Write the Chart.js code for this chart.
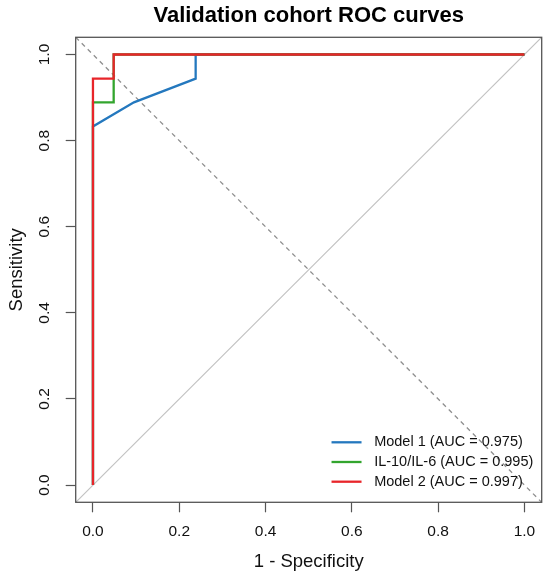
<!DOCTYPE html>
<html>
<head>
<meta charset="utf-8">
<script src="https://cdn.jsdelivr.net/npm/chart.js@4.4.1/dist/chart.umd.min.js"></script>
<style>
  html, body { margin: 0; padding: 0; background: #fff; }
  #wrap { width: 550px; height: 579px; position: relative; }
</style>
</head>
<body>
<div id="wrap"><canvas id="rocChart"></canvas></div>
<script>
// axis range (R style: 4% extension) and tick labels
const axisMin = -0.04;
const axisMax = 1.04;
const tickValues = [0, 0.2, 0.4, 0.6, 0.8, 1.0];

// legend labels
const seriesNames = ['Model 1 (AUC = 0.975)', 'IL-10/IL-6 (AUC = 0.995)', 'Model 2 (AUC = 0.997)'];

// ROC points (1 - specificity, sensitivity)
const model1Fpr = [0, 0, 0.095, 0.238, 0.238, 1];
const model1Sens = [0, 0.833, 0.889, 0.944, 1, 1];
const ilRatioFpr = [0, 0, 0.048, 0.048, 1];
const ilRatioSens = [0, 0.889, 0.889, 1, 1];
const model2Fpr = [0, 0, 0.048, 0.048, 1];
const model2Sens = [0, 0.944, 0.944, 1, 1];

// reference lines across the plot
const refX = [axisMin, axisMax];
const diagY = [axisMin, axisMax];
const antiDiagY = [axisMax, axisMin];

const FONT = "'Liberation Sans', Arial, sans-serif";
const colors = ['#2478BE', '#33A52E', '#E8252A'];

const toPoints = (xs, ys) => xs.map((x, i) => ({ x: x, y: ys[i] }));

const boxAndLegend = {
  id: 'boxAndLegend',
  afterDatasetsDraw(chart) {
    const { ctx, chartArea } = chart;
    ctx.save();
    ctx.strokeStyle = '#555';
    ctx.lineWidth = 1.3;
    ctx.strokeRect(chartArea.left, chartArea.top, chartArea.right - chartArea.left, chartArea.bottom - chartArea.top);
    ctx.restore();
  },
  afterDraw(chart) {
    const { ctx, chartArea } = chart;
    const items = chart.data.datasets.filter(d => d.label);
    ctx.save();
    ctx.font = '14.5px ' + FONT;
    const widest = Math.max(...items.map(d => ctx.measureText(d.label).width));
    const textX = chartArea.right - 8.4 - widest;
    const lineEnd = textX - 12.6;
    const lineStart = lineEnd - 30;
    ctx.textBaseline = 'middle';
    ctx.textAlign = 'left';
    items.forEach((d, i) => {
      const y = chartArea.bottom - 20.6 - (items.length - 1 - i) * 19.7;
      ctx.strokeStyle = d.borderColor;
      ctx.lineWidth = 2.3;
      ctx.beginPath();
      ctx.moveTo(lineStart, y);
      ctx.lineTo(lineEnd, y);
      ctx.stroke();
      ctx.fillStyle = '#111';
      ctx.fillText(d.label, textX, y);
    });
    ctx.restore();
  }
};

const setTicks = scale => { scale.ticks = tickValues.map(v => ({ value: v })); };

new Chart(document.getElementById('rocChart'), {
  type: 'scatter',
  data: {
    datasets: [
      { data: toPoints(refX, antiDiagY), borderColor: '#8f8f8f', borderWidth: 1.3, borderDash: [4.5, 4], order: 5 },
      { data: toPoints(refX, diagY), borderColor: '#c2c2c2', borderWidth: 1.2, order: 4 },
      { label: seriesNames[0], data: toPoints(model1Fpr, model1Sens), borderColor: colors[0], order: 3 },
      { label: seriesNames[1], data: toPoints(ilRatioFpr, ilRatioSens), borderColor: colors[1], order: 2 },
      { label: seriesNames[2], data: toPoints(model2Fpr, model2Sens), borderColor: colors[2], order: 1 }
    ].map(d => Object.assign({ showLine: true, pointRadius: 0, pointHoverRadius: 0, borderWidth: 2.3, tension: 0, fill: false }, d))
  },
  options: {
    responsive: true,
    maintainAspectRatio: false,
    animation: false,
    events: [],
    layout: { padding: { left: 0, top: 0, right: 8.3, bottom: 0 } },
    plugins: {
      legend: { display: false },
      tooltip: { enabled: false },
      title: {
        display: true,
        fullSize: false,
        text: 'Validation cohort ROC curves',
        color: '#000',
        font: { family: FONT, size: 22, weight: 'bold', lineHeight: 1.2 },
        padding: { top: 2.3, bottom: 8.6 }
      }
    },
    scales: {
      x: {
        type: 'linear',
        min: axisMin,
        max: axisMax,
        afterBuildTicks: setTicks,
        afterFit: s => { s.height = 76.7; },
        border: { display: false },
        grid: { drawOnChartArea: false, drawTicks: true, tickLength: 10, tickColor: '#555', tickWidth: 1.2 },
        ticks: {
          autoSkip: false,
          maxRotation: 0,
          padding: 10,
          color: '#111',
          font: { family: FONT, size: 15.5 },
          callback: v => Number(v).toFixed(1)
        },
        title: {
          display: true,
          text: '1 - Specificity',
          color: '#111',
          font: { family: FONT, size: 18.5, lineHeight: 1.2 },
          padding: { top: 4, bottom: 6.2 }
        }
      },
      y: {
        type: 'linear',
        min: axisMin,
        max: axisMax,
        afterBuildTicks: setTicks,
        afterFit: s => { s.width = 75.7; },
        border: { display: false },
        grid: { drawOnChartArea: false, drawTicks: true, tickLength: 10, tickColor: '#555', tickWidth: 1.2 },
        ticks: {
          autoSkip: false,
          minRotation: 90,
          maxRotation: 90,
          crossAlign: 'center',
          padding: 10,
          color: '#111',
          font: { family: FONT, size: 15.5 },
          callback: v => Number(v).toFixed(1)
        },
        title: {
          display: true,
          text: 'Sensitivity',
          color: '#111',
          font: { family: FONT, size: 18.5, lineHeight: 1.2 },
          padding: { top: 5.9, bottom: 4 }
        }
      }
    }
  },
  plugins: [boxAndLegend]
});
</script>
</body>
</html>
